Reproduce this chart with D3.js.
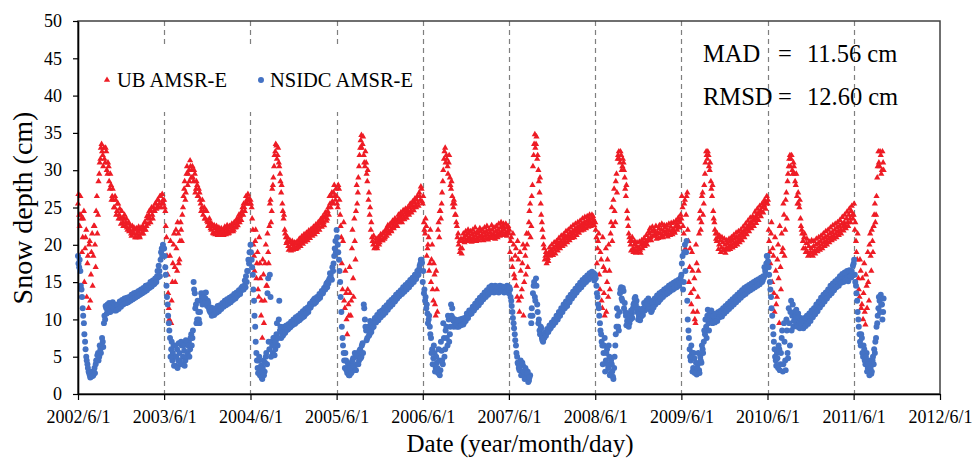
<!DOCTYPE html>
<html>
<head>
<meta charset="utf-8">
<script src="https://cdn.jsdelivr.net/npm/d3@7"></script>
<style>
  body { margin: 0; background: #fff; }
  svg { display: block; }
  text { font-family: "Liberation Serif", "Times New Roman", serif; fill: #000; }
</style>
</head>
<body>
<div id="chart"></div>
<script>
// each season starts on June 1; "a" arrays hold one value every 5 days,
// "b" arrays the readings 2 days later (the other side of the scatter band)
var seasons = [2002, 2003, 2004, 2005, 2006, 2007, 2008, 2009, 2010, 2011];
var stepDays = 5, offsetB = 2;

// UB AMSR-E snow depth (cm)
var ubDepth2002 = [25.5,24.0,26.5,23.5,21.0,24.5,19.5,22.0,17.5,11.5,
  20.5,16.0,21.5,18.5,22.5,17.0,26.5,24.0,29.5,31.5,
  33.5,32.0,33.0,31.0,32.5,29.5,30.5,27.5,28.0,26.5,
  26.0,25.0,26.0,24.5,25.5,24.0,23.5,24.5,23.0,23.5,
  22.5,23.5,22.0,23.0,22.0,21.5,22.5,21.5,22.0,21.0,
  21.5,21.8,21.2,22.0,21.5,22.5,22.0,23.0,22.5,23.5,
  24.0,23.5,24.5,24.0,25.0,24.5,25.5,25.0,26.0,25.5,
  26.5,25.5,26.0];
var ubDepth2002b = [26.8,22.5,24.0,19.0,23.5,15.0,21.0,13.0,18.5,20.0,
  12.5,19.0,14.5,22.5,20.0,24.5,21.5,28.5,31.0,33.0,
  32.5,30.5,31.5,33.0,30.0,31.0,28.5,29.5,26.0,27.5,
  25.0,26.5,24.0,25.5,23.5,24.8,22.8,23.5,22.5,24.0,
  23.0,22.3,22.8,21.8,22.5,21.2,21.8,22.3,21.0,22.2,
  21.0,22.4,21.0,22.3,22.2,21.5,23.0,22.0,23.8,22.8,
  24.5,23.0,25.0,23.5,24.5,25.5,24.8,26.0,25.0,26.5,
  25.0,26.8,25.5];
var ubDepth2003 = [26.0,24.5,21.0,16.0,11.5,18.5,9.5,15.0,20.0,17.0,
  22.0,16.5,21.5,18.0,23.0,20.5,25.0,27.5,26.0,29.5,
  28.0,30.0,31.3,29.0,30.5,28.5,29.5,27.5,28.0,26.5,
  27.0,25.5,25.0,24.0,25.0,23.5,24.5,23.0,22.5,23.0,
  22.0,22.5,21.5,22.2,21.8,22.0,21.5,22.0,21.7,21.3,
  22.0,21.5,22.2,21.8,22.0,21.6,22.3,22.0,22.5,22.0,
  22.8,22.4,23.0,23.5,23.0,24.0,24.5,24.0,25.0,25.5,
  26.0,26.8,26.2];
var ubDepth2003b = [25.0,22.5,18.5,13.5,10.0,20.5,12.5,17.5,21.5,15.0,
  19.5,23.0,17.5,20.5,22.0,24.0,26.5,28.5,27.0,30.5,
  29.5,28.5,30.5,30.0,29.0,30.0,27.0,28.5,26.5,27.5,
  26.0,24.5,26.0,24.5,23.5,24.5,23.2,22.5,23.5,22.2,
  22.8,21.6,22.6,21.4,22.5,21.3,22.3,21.5,22.2,21.8,
  21.3,22.4,21.4,22.6,21.5,22.5,21.8,22.8,21.8,23.0,
  22.3,23.4,22.6,24.0,23.8,23.3,25.0,25.5,24.5,26.5,
  25.5,26.0,25.5];
var ubDepth2004 = [26.0,25.0,22.0,18.5,20.5,15.5,19.0,13.0,17.5,10.5,
  7.5,16.0,12.5,20.0,14.5,19.0,22.5,26.0,24.5,28.0,
  30.5,32.5,33.3,32.0,31.0,29.5,27.0,25.5,23.5,22.0,
  21.0,20.5,19.8,20.3,19.5,20.0,19.3,19.8,20.2,19.5,
  20.0,20.5,20.2,20.8,20.5,21.0,20.7,21.2,21.0,21.5,
  21.3,21.8,21.5,22.0,21.8,22.3,22.0,22.6,22.4,23.0,
  22.8,23.3,23.0,23.6,24.0,23.5,25.0,26.5,25.0,27.0,
  25.5,28.0,26.0];
var ubDepth2004b = [25.5,23.5,20.0,16.5,22.0,17.5,14.0,21.0,15.5,12.5,
  18.0,9.5,17.5,14.5,21.5,17.5,25.5,23.0,27.5,29.0,
  32.0,33.5,31.5,33.0,30.5,28.5,28.0,24.5,24.0,21.5,
  20.2,21.0,19.3,20.6,19.2,20.5,19.6,20.3,19.4,20.4,
  19.6,20.8,19.8,21.1,20.1,21.4,20.4,21.6,20.6,21.9,
  20.9,22.1,21.2,22.4,21.4,22.7,21.7,23.0,22.0,23.4,
  22.4,23.8,22.6,24.3,23.2,24.5,24.0,25.5,26.5,25.8,
  27.0,26.5,27.5];
var ubDepth2005 = [26.5,25.0,27.5,24.0,21.0,14.0,23.0,11.5,13.5,8.0,
  12.0,17.0,10.5,19.5,15.5,23.5,18.0,28.0,27.0,30.5,
  33.0,34.7,33.5,32.0,30.5,31.0,28.5,26.0,24.0,22.0,
  21.0,20.0,19.5,20.3,19.8,20.5,20.0,20.8,21.2,20.6,
  21.5,21.0,21.8,22.2,21.6,22.5,22.0,22.8,22.4,23.0,
  22.6,23.2,23.5,23.0,23.8,23.4,24.0,23.7,24.3,24.0,
  24.6,24.3,25.0,24.6,25.3,25.0,25.7,25.3,26.0,25.6,
  27.0,26.0,27.5];
var ubDepth2005b = [25.5,28.0,26.0,22.5,17.5,20.5,12.5,16.5,10.0,14.0,
  10.5,13.5,12.5,22.0,13.0,20.5,24.5,25.5,29.0,32.0,
  34.0,33.0,34.5,31.0,32.5,29.5,30.0,27.0,25.0,23.0,
  20.5,21.2,19.6,20.8,19.5,21.0,20.3,21.4,20.6,21.6,
  20.8,22.0,21.2,22.6,21.5,22.8,21.8,23.2,22.2,23.5,
  23.0,22.5,24.0,23.3,24.3,23.0,24.6,23.4,24.8,23.6,
  25.0,24.0,25.5,24.3,25.8,24.6,26.2,25.0,26.5,25.2,
  26.5,27.8,25.8];
var ubDepth2006 = [25.5,23.0,21.5,22.5,19.5,21.0,17.5,15.0,20.0,12.5,
  16.0,10.5,14.0,22.0,21.0,24.5,25.5,28.5,31.5,33.0,
  32.0,30.5,31.0,29.0,27.5,26.5,25.0,25.5,24.0,22.5,
  21.5,20.5,19.5,18.8,20.5,21.0,20.5,21.3,20.8,21.5,
  21.0,20.7,21.4,21.0,21.6,21.2,20.8,21.5,21.1,21.8,
  21.3,20.9,21.6,21.2,21.8,21.4,21.0,21.7,21.3,22.0,
  21.5,21.2,21.8,21.4,22.0,21.6,22.3,21.8,22.5,22.0,
  21.5,22.3,21.8];
var ubDepth2006b = [26.5,22.0,23.5,18.5,20.0,16.5,22.0,18.0,14.0,17.5,
  12.0,16.5,11.0,23.0,24.5,23.5,27.0,30.0,32.5,31.0,
  31.5,29.5,32.0,28.0,28.5,25.5,26.0,24.0,23.0,21.0,
  20.0,19.0,20.8,19.5,21.5,20.3,21.8,20.5,22.0,20.6,
  21.8,20.4,22.0,20.6,22.3,20.5,21.8,20.6,22.2,20.8,
  22.0,20.6,22.3,20.8,22.5,20.7,22.1,20.9,22.6,21.0,
  22.3,20.8,22.5,21.0,22.8,21.2,23.0,21.4,22.8,21.3,
  22.8,21.2,22.5];
var ubDepth2007 = [21.5,19.0,21.0,17.0,20.0,15.5,19.5,13.0,18.0,11.0,
  16.5,14.0,20.0,15.0,18.5,21.5,17.0,23.0,25.5,22.5,
  28.0,32.0,34.8,33.5,31.5,30.0,27.0,25.5,23.0,21.0,
  19.5,18.5,17.5,18.2,19.0,18.5,19.3,19.0,19.6,19.3,
  19.9,19.6,20.2,19.9,20.5,20.2,20.8,20.5,21.1,20.8,
  21.3,21.0,21.6,21.3,21.8,21.5,22.1,21.8,22.3,22.0,
  22.6,22.3,22.8,22.5,23.0,22.7,23.2,22.9,23.4,23.0,
  23.5,22.8,23.3];
var ubDepth2007b = [22.0,20.5,18.0,21.5,16.0,18.5,14.5,20.5,12.5,19.0,
  13.0,17.5,10.5,19.5,16.0,20.0,21.5,24.5,21.0,26.5,
  30.5,33.5,33.0,34.5,32.0,28.5,29.0,24.0,22.0,20.0,
  18.0,19.0,18.7,17.8,19.6,18.8,20.0,18.6,20.3,18.8,
  20.5,19.2,20.9,19.5,21.2,19.8,21.4,20.0,21.8,20.3,
  22.0,20.6,22.3,20.9,22.6,21.0,22.8,21.3,23.0,21.6,
  23.2,21.9,23.5,22.0,23.7,22.2,23.8,22.4,24.0,22.5,
  24.0,23.8,22.6];
var ubDepth2008 = [23.0,21.0,19.5,21.5,14.0,18.0,11.5,17.0,10.5,19.5,
  15.0,13.0,16.5,21.5,25.0,22.5,27.5,23.0,29.5,31.5,
  32.5,31.0,32.0,30.5,31.0,29.0,26.5,24.5,22.5,21.0,
  20.0,20.5,19.5,20.0,19.2,19.8,19.0,19.6,19.3,20.0,
  19.5,20.2,19.8,20.5,20.0,20.8,21.5,21.0,21.8,21.2,
  22.0,21.4,20.8,21.6,22.2,21.5,22.0,21.3,21.8,22.3,
  21.6,22.0,21.4,21.9,22.4,21.7,22.1,21.8,22.4,22.8,
  22.5,23.3,23.0];
var ubDepth2008b = [22.0,17.5,20.5,16.0,19.0,12.5,21.0,13.5,16.5,11.0,
  18.0,20.0,14.0,23.0,20.5,26.0,24.5,28.5,27.0,32.0,
  31.5,32.5,30.0,31.5,30.0,27.5,28.0,23.5,21.5,20.5,
  19.2,21.0,19.0,20.5,18.9,20.3,19.5,20.4,18.9,20.6,
  19.9,20.9,20.3,21.3,20.6,21.8,22.2,20.6,22.4,21.8,
  21.2,22.5,21.6,20.9,22.6,21.0,22.8,21.0,22.6,21.4,
  22.6,21.1,22.8,21.3,22.9,21.4,23.0,21.6,23.2,22.0,
  23.6,22.3,24.0];
var ubDepth2009 = [23.5,25.0,21.5,26.0,24.0,27.0,20.5,17.0,13.5,19.0,
  11.0,15.5,9.5,17.5,13.0,21.5,24.5,23.0,27.0,25.5,
  29.5,32.5,31.5,32.0,30.0,28.5,26.5,24.5,23.0,21.5,
  20.5,21.0,20.0,20.6,19.6,20.3,19.4,20.0,19.5,20.2,
  19.7,20.4,19.9,20.6,20.1,20.8,20.3,21.0,20.5,21.2,
  20.8,21.5,21.2,21.8,21.6,22.2,22.0,22.6,22.3,23.0,
  22.8,23.3,23.2,23.8,23.5,24.2,24.0,24.6,24.4,25.0,
  25.3,25.8,25.5];
var ubDepth2009b = [26.5,22.5,25.5,19.5,26.5,22.0,15.0,19.5,12.0,16.5,
  14.0,10.0,20.0,11.0,16.5,23.5,22.0,26.5,24.0,28.0,
  31.0,32.0,32.5,30.5,31.0,27.5,28.0,23.5,22.0,20.8,
  21.5,19.4,21.2,19.0,21.0,19.2,20.8,18.9,20.6,19.3,
  20.8,19.4,21.0,19.6,21.3,19.8,21.6,20.0,21.8,20.3,
  22.0,20.6,22.4,21.0,22.8,21.4,23.2,21.8,23.6,22.2,
  23.8,22.5,24.4,22.9,24.8,23.3,25.2,23.8,25.5,24.3,
  26.0,24.8,26.5];
var ubDepth2010 = [25.5,22.0,19.0,21.5,15.0,18.5,11.0,16.5,13.0,20.0,
  9.5,17.0,21.5,19.5,24.0,22.0,27.0,28.5,30.5,32.0,
  31.5,30.0,31.0,29.5,28.0,26.5,27.0,25.0,23.5,22.0,
  20.5,21.0,19.5,20.2,19.0,19.8,18.6,19.5,18.9,19.8,
  19.2,20.0,19.4,20.2,19.7,20.5,20.0,20.8,20.3,21.0,
  20.5,21.2,20.8,21.5,21.0,21.7,21.2,22.0,21.5,22.3,
  21.8,22.5,22.0,22.8,22.4,23.0,22.6,23.5,23.0,24.0,
  23.5,24.5,24.0];
var ubDepth2010b = [26.0,20.5,17.5,23.0,19.5,13.5,21.0,12.0,18.0,15.5,
  22.5,14.0,19.0,25.5,18.5,26.0,23.5,29.5,31.5,30.5,
  32.0,29.5,30.5,28.5,29.5,25.5,25.5,26.0,22.5,21.5,
  19.5,21.5,19.0,20.8,18.5,20.4,19.0,20.6,18.5,20.5,
  18.8,20.8,19.1,21.0,19.3,21.2,19.5,21.5,19.8,21.8,
  20.0,22.0,20.3,22.3,20.6,22.6,20.8,22.8,21.0,23.0,
  21.3,23.3,21.5,23.7,21.9,24.0,22.2,24.4,22.5,24.8,
  23.0,25.2,23.5];
var ubDepth2011 = [24.0,22.0,20.5,18.0,15.5,13.0,16.5,12.0,10.0,17.5,
  9.3,14.5,19.0,12.5,21.5,16.5,20.5,22.5,25.5,24.0,
  29.0,32.5,30.5,32.0,30.0,31.0];
var ubDepth2011b = [25.5,23.0,19.0,21.5,14.0,18.0,11.5,15.5,13.5,11.0,
  16.0,11.5,15.0,20.0,18.5,22.0,19.0,24.0,23.0,26.5,
  30.5,31.0,32.5,29.5,32.5,30.0];

// NSIDC AMSR-E snow depth (cm)
var nsidcDepth2002 = [18.5,17.0,16.5,14.0,11.5,9.5,7.0,5.0,4.0,3.0,
  2.5,2.3,3.0,2.5,3.5,4.0,4.5,5.5,5.0,6.0,
  6.5,7.0,9.5,10.0,11.5,12.0,11.0,11.5,12.0,11.5,
  12.0,11.2,11.8,11.5,12.0,11.8,12.2,12.0,12.5,12.3,
  12.4,12.2,12.6,12.4,12.8,12.6,13.0,12.8,13.2,13.0,
  13.4,13.2,13.6,13.4,13.8,13.6,14.0,13.8,14.3,14.1,
  14.5,14.3,14.8,14.6,15.0,14.8,15.3,15.8,15.6,16.5,
  18.0,19.5,20.0];
var nsidcDepth2002b = [17.5,18.0,14.5,13.0,10.5,8.0,6.0,4.5,3.5,2.8,
  2.2,2.6,2.4,3.0,2.8,4.5,5.2,4.5,6.5,5.5,
  7.5,6.3,10.5,11.8,10.8,11.2,12.2,11.0,11.8,12.3,
  11.5,12.0,11.2,11.9,11.4,12.4,11.7,12.6,12.0,12.8,
  12.2,12.9,12.3,13.0,12.5,13.3,12.7,13.5,12.9,13.6,
  13.1,13.8,13.3,14.0,13.5,14.2,13.7,14.5,13.9,14.6,
  14.2,15.0,14.4,15.2,14.7,15.5,15.0,16.5,17.2,15.8,
  19.0,18.5,19.5];
var nsidcDepth2003 = [19.5,17.0,14.5,12.0,9.5,7.5,6.0,4.5,6.5,5.0,
  3.8,6.0,4.5,5.5,4.0,6.5,5.0,5.8,4.5,6.8,
  5.5,7.0,6.0,8.0,7.5,15.0,13.5,12.0,10.0,11.0,
  9.5,12.5,13.0,12.5,13.5,12.8,12.0,12.5,11.5,11.0,
  10.8,11.2,11.0,10.8,11.3,11.0,11.5,11.3,11.6,11.8,
  12.0,11.9,12.2,12.1,12.4,12.3,12.6,12.5,12.8,12.9,
  13.2,13.0,13.4,13.6,13.5,13.8,14.0,14.2,14.5,14.3,
  15.0,16.5,17.5];
var nsidcDepth2003b = [18.5,16.0,13.0,10.5,8.5,5.0,7.0,5.5,3.8,6.5,
  5.0,3.5,6.8,4.5,7.0,4.0,6.5,3.8,7.2,5.0,
  6.5,5.0,7.5,6.5,8.5,14.0,11.5,9.5,12.5,10.0,
  11.0,13.5,12.0,13.0,12.2,13.6,11.8,12.2,11.2,11.6,
  10.5,11.5,10.6,11.4,10.9,11.8,11.1,11.9,11.4,12.2,
  11.7,12.5,11.9,12.7,12.1,12.9,12.3,13.1,12.6,13.4,
  12.8,13.6,13.2,13.9,13.4,14.2,14.4,14.0,15.2,15.8,
  16.5,18.0,19.0];
var nsidcDepth2004 = [20.0,18.0,16.0,12.5,9.0,5.5,3.5,4.5,2.5,3.8,
  2.0,4.5,3.0,5.0,4.0,15.5,6.0,13.0,7.0,5.5,
  7.5,6.0,8.0,6.5,10.0,8.5,7.5,8.5,8.0,8.8,
  8.5,9.0,8.7,9.2,9.0,9.5,9.3,9.8,9.5,10.0,
  9.8,10.2,10.0,10.5,10.3,10.8,10.6,11.0,11.2,11.0,
  11.8,11.6,12.1,12.3,12.1,12.6,12.5,12.9,13.1,12.9,
  13.4,13.7,13.9,14.2,14.5,14.3,14.8,15.5,16.0,15.3,
  16.5,18.5,20.5];
var nsidcDepth2004b = [19.0,17.0,14.0,10.5,7.0,4.5,2.8,5.0,3.2,2.2,
  3.5,2.5,4.2,5.5,13.5,7.0,16.0,5.0,6.5,7.5,
  5.2,7.0,9.5,7.5,12.5,9.0,8.2,7.8,9.0,8.2,
  9.2,8.6,9.4,8.9,9.7,9.2,10.0,9.4,10.3,9.7,
  10.5,9.9,10.8,10.2,11.1,10.4,11.4,10.8,11.6,11.4,
  12.1,11.9,12.4,12.6,12.8,12.3,13.0,12.7,13.4,13.3,
  13.8,13.5,14.2,14.0,14.8,15.0,15.2,16.2,15.5,17.0,
  17.5,19.5,19.0];
var nsidcDepth2005 = [22.0,20.0,18.0,15.0,11.0,7.5,5.5,3.5,4.5,2.8,
  3.8,2.5,4.0,3.0,4.8,3.5,5.0,4.0,5.5,4.5,
  6.0,5.0,6.8,12.0,10.0,8.5,7.5,9.0,8.0,9.5,
  8.8,9.5,9.8,10.0,10.3,10.1,10.6,10.8,10.6,11.0,
  11.3,11.1,11.5,11.8,11.6,12.0,12.3,12.1,12.6,12.8,
  12.6,13.0,13.3,13.1,13.5,13.8,13.6,14.0,14.3,14.1,
  14.5,14.8,14.6,15.0,15.3,15.2,15.6,16.0,15.8,16.3,
  16.8,17.5,18.0];
var nsidcDepth2005b = [21.0,19.0,16.5,13.0,9.0,6.5,4.5,5.5,3.2,4.2,
  2.5,3.5,2.8,4.5,3.8,5.5,3.2,5.2,4.0,5.8,
  4.8,6.5,5.5,11.5,9.0,7.2,8.5,7.8,9.8,8.3,
  9.2,9.0,10.2,9.6,10.6,9.9,11.0,10.3,11.2,10.6,
  11.6,10.9,11.9,11.3,12.3,11.7,12.6,12.0,12.9,12.4,
  13.3,12.8,13.6,13.2,13.9,13.4,14.3,13.7,14.6,14.0,
  14.9,14.3,15.3,14.7,15.6,15.0,16.0,15.4,16.5,16.0,
  17.2,18.0,17.6];
var nsidcDepth2006 = [15.0,13.5,12.5,11.5,10.8,10.0,9.0,7.5,6.0,4.8,
  5.5,3.5,4.2,2.8,4.5,3.2,5.8,4.0,7.5,6.0,
  9.0,6.5,10.0,8.0,12.0,11.5,9.8,9.2,9.6,9.0,
  9.5,9.2,9.7,9.4,9.8,9.6,10.0,10.3,10.5,10.8,
  10.7,11.1,11.3,11.6,11.5,11.9,12.2,12.1,12.5,12.7,
  12.6,13.0,13.2,13.1,13.5,13.7,13.6,14.0,14.2,13.9,
  14.3,13.8,14.1,13.7,14.2,13.9,14.3,13.8,14.0,13.6,
  14.2,13.8,14.4];
var nsidcDepth2006b = [16.5,14.0,13.0,12.0,9.5,10.5,8.0,5.5,4.0,6.5,
  3.0,5.0,3.5,6.0,2.5,7.0,4.5,9.5,5.0,8.5,
  7.5,10.5,7.0,9.0,10.5,10.2,9.0,10.0,9.3,9.9,
  9.0,10.0,9.2,10.1,9.3,10.2,9.8,10.8,10.2,11.2,
  11.2,10.8,11.7,11.2,12.1,11.6,12.5,11.9,12.9,12.3,
  13.2,12.7,13.6,13.0,13.9,13.3,14.3,13.6,14.5,14.0,
  13.6,14.5,13.9,14.4,13.6,14.5,14.0,14.4,13.7,14.3,
  13.7,14.5,14.0];
var nsidcDepth2007 = [13.5,14.0,12.5,11.0,9.5,8.0,6.5,5.0,4.0,3.2,
  4.5,2.8,3.8,2.5,3.5,2.2,3.0,1.8,2.5,9.5,
  10.5,14.5,13.0,15.5,12.0,9.5,8.5,9.0,7.5,7.0,
  7.5,7.9,8.2,8.5,8.6,9.0,9.1,9.4,9.5,9.9,
  10.0,10.3,10.4,10.8,10.9,11.2,11.4,11.6,11.9,12.0,
  12.3,12.4,12.7,12.9,13.1,13.3,13.5,13.8,13.9,14.2,
  14.3,14.6,14.7,15.0,15.1,15.3,15.5,15.6,15.8,15.9,
  16.1,16.0,16.2];
var nsidcDepth2007b = [14.3,13.0,11.8,10.2,8.8,7.2,5.5,4.2,3.5,4.0,
  2.5,4.2,3.0,2.0,3.2,2.8,1.6,2.2,10.5,11.5,
  13.5,15.0,12.5,14.5,11.0,10.0,8.0,8.8,7.2,7.5,
  8.2,7.8,8.7,8.3,9.2,8.8,9.6,9.2,10.0,9.6,
  10.5,10.0,11.0,10.5,11.5,11.0,12.0,11.5,12.4,11.8,
  12.9,12.3,13.3,12.8,13.7,13.2,14.1,13.6,14.5,14.0,
  14.9,14.3,15.3,14.7,15.6,15.0,15.9,15.3,16.2,15.6,
  16.4,15.8,15.2];
var nsidcDepth2008 = [16.0,14.5,13.0,11.5,9.5,8.0,6.5,5.5,7.5,4.5,
  6.0,3.5,5.0,2.8,4.0,2.3,3.5,6.5,9.0,10.5,
  8.5,13.5,14.3,12.5,13.8,12.2,10.5,9.8,10.3,9.5,
  10.0,10.8,11.5,12.2,13.0,12.5,11.5,10.5,9.9,10.4,
  11.0,11.5,11.2,11.8,12.4,12.8,12.2,11.6,11.2,11.8,
  12.3,12.0,12.6,12.9,12.5,13.0,13.3,13.1,13.5,13.7,
  13.4,13.8,14.0,13.7,14.1,14.3,14.0,14.4,14.6,14.3,
  14.8,14.5,15.0];
var nsidcDepth2008b = [15.5,13.5,12.0,10.5,8.5,7.0,4.0,6.5,3.0,5.5,
  4.0,6.5,2.5,4.5,3.0,2.0,5.0,8.0,11.5,9.0,
  11.0,14.0,12.8,14.2,11.5,11.0,9.2,10.8,9.0,10.6,
  11.2,10.2,12.0,12.8,12.0,11.0,10.0,11.0,10.8,11.4,
  10.6,12.2,11.9,12.5,12.0,11.4,12.5,11.0,12.3,11.6,
  12.8,12.4,13.2,12.3,13.5,12.7,13.7,13.0,14.0,13.3,
  14.2,13.5,14.5,13.8,14.7,14.0,14.9,14.2,15.1,14.6,
  15.3,14.9,15.6];
var nsidcDepth2009 = [16.0,18.5,15.0,20.0,19.0,12.5,8.5,6.0,4.5,5.5,
  3.5,4.8,3.0,2.6,4.0,3.2,5.0,4.2,6.0,7.0,
  8.0,9.0,10.5,9.5,11.0,10.0,10.8,9.8,10.2,9.9,
  10.4,10.2,10.7,10.5,11.0,10.8,11.3,11.1,11.6,11.5,
  11.9,11.8,12.2,12.1,12.5,12.4,12.8,12.7,13.1,13.0,
  13.4,13.2,13.6,13.5,13.9,13.7,14.1,14.0,14.3,14.2,
  14.5,14.4,14.7,14.6,14.9,14.8,15.1,15.0,15.3,15.2,
  15.6,16.5,17.5];
var nsidcDepth2009b = [17.5,14.0,19.0,16.5,20.5,10.0,7.5,5.0,6.5,3.0,
  5.5,2.8,4.2,3.5,5.5,2.8,4.5,6.5,5.5,8.5,
  10.0,7.5,11.3,8.5,10.5,11.2,9.5,10.5,9.6,10.8,
  9.8,11.0,10.3,11.2,10.4,11.5,10.8,11.8,11.1,12.1,
  11.4,12.4,11.7,12.7,12.0,13.0,12.3,13.3,12.6,13.6,
  12.9,13.9,13.2,14.2,13.4,14.4,13.7,14.6,13.9,14.8,
  14.1,15.0,14.3,15.2,14.5,15.4,14.7,15.6,15.0,15.8,
  17.0,16.0,18.5];
var nsidcDepth2010 = [18.5,17.0,15.0,13.0,10.5,8.0,6.0,4.5,5.5,3.5,
  6.0,4.0,7.5,3.0,9.5,4.5,10.0,5.5,11.5,6.5,
  12.5,10.5,9.0,11.0,10.5,9.5,10.8,9.8,10.2,9.0,
  9.6,9.3,9.8,9.6,10.1,10.4,10.3,10.7,11.0,10.9,
  11.3,11.6,11.5,11.9,12.2,12.1,12.5,12.8,12.7,13.1,
  13.3,13.2,13.6,13.9,13.8,14.2,14.4,14.3,14.7,14.9,
  14.8,15.2,15.4,15.3,15.6,15.8,15.5,16.0,15.4,15.9,
  16.3,15.6,16.0];
var nsidcDepth2010b = [17.8,16.0,14.0,11.5,9.0,7.0,5.0,3.8,4.8,6.5,
  3.2,5.5,8.5,4.0,7.0,3.2,8.5,4.8,9.5,11.0,
  8.5,12.0,9.8,10.0,11.3,9.0,10.3,8.8,9.5,9.9,
  8.8,10.2,9.1,10.5,9.4,10.8,9.8,11.2,10.3,11.5,
  10.7,12.0,11.1,12.4,11.6,12.9,12.0,13.3,12.4,13.6,
  12.8,14.0,13.2,14.5,13.5,14.8,13.9,15.1,14.3,15.4,
  14.5,15.8,14.9,16.1,15.0,16.3,15.2,16.5,15.1,16.6,
  15.8,16.5,17.2];
var nsidcDepth2011 = [17.5,16.0,14.5,12.5,10.0,8.0,6.5,7.5,5.0,6.0,
  4.0,5.5,3.5,4.5,3.0,2.7,4.5,4.0,5.5,7.5,
  9.5,11.5,12.5,13.3,12.0,11.0];
var nsidcDepth2011b = [18.0,15.0,13.5,11.0,9.0,7.0,8.0,5.5,6.5,4.5,
  5.0,3.0,4.0,2.5,3.5,3.0,5.0,6.0,7.0,9.0,
  10.5,13.0,11.0,12.0,10.0,12.8];

var ubSeries = [ubDepth2002, ubDepth2003, ubDepth2004, ubDepth2005, ubDepth2006,
  ubDepth2007, ubDepth2008, ubDepth2009, ubDepth2010, ubDepth2011];
var ubSeriesB = [ubDepth2002b, ubDepth2003b, ubDepth2004b, ubDepth2005b, ubDepth2006b,
  ubDepth2007b, ubDepth2008b, ubDepth2009b, ubDepth2010b, ubDepth2011b];
var nsidcSeries = [nsidcDepth2002, nsidcDepth2003, nsidcDepth2004, nsidcDepth2005, nsidcDepth2006,
  nsidcDepth2007, nsidcDepth2008, nsidcDepth2009, nsidcDepth2010, nsidcDepth2011];
var nsidcSeriesB = [nsidcDepth2002b, nsidcDepth2003b, nsidcDepth2004b, nsidcDepth2005b, nsidcDepth2006b,
  nsidcDepth2007b, nsidcDepth2008b, nsidcDepth2009b, nsidcDepth2010b, nsidcDepth2011b];

var yTicks = [0, 5, 10, 15, 20, 25, 30, 35, 40, 45, 50];
var xTickYears = [2002, 2003, 2004, 2005, 2006, 2007, 2008, 2009, 2010, 2011, 2012];

var red = "#ee1c25", blue = "#4472c4";
var serif = "'Liberation Serif', 'Times New Roman', serif";

function toPoints(list, offset) {
  var pts = [];
  list.forEach(function(vals, k) {
    var start = new Date(seasons[k], 5, 1);
    vals.forEach(function(v, i) {
      pts.push({ date: d3.timeDay.offset(start, i * stepDays + offset), value: v });
    });
  });
  return pts;
}
var ubPoints = toPoints(ubSeries, 0).concat(toPoints(ubSeriesB, offsetB));
var nsidcPoints = toPoints(nsidcSeries, 0).concat(toPoints(nsidcSeriesB, offsetB));

var W = 973, H = 458;
var margin = { top: 21, right: 33, bottom: 64, left: 78 };

var svg = d3.select("#chart").append("svg")
  .attr("width", W)
  .attr("height", H);

var xTickDates = xTickYears.map(function(yr) { return new Date(yr, 5, 1); });

var x = d3.scaleTime()
  .domain([xTickDates[0], xTickDates[xTickDates.length - 1]])
  .range([margin.left, W - margin.right]);
var y = d3.scaleLinear()
  .domain([0, 50])
  .range([H - margin.bottom, margin.top]);

// dashed year lines
svg.append("g")
  .selectAll("line")
  .data(xTickDates.slice(1, -1))
  .join("line")
  .attr("x1", function(d) { return Math.round(x(d)) + 0.5; })
  .attr("x2", function(d) { return Math.round(x(d)) + 0.5; })
  .attr("y1", y(50))
  .attr("y2", y(0))
  .attr("stroke", "#7f7f7f")
  .attr("stroke-width", 1.2)
  .attr("stroke-dasharray", "5,4");

// plot frame
svg.append("rect")
  .attr("x", x.range()[0])
  .attr("y", y(50))
  .attr("width", x.range()[1] - x.range()[0])
  .attr("height", y(0) - y(50))
  .attr("fill", "none")
  .attr("stroke", "#404040")
  .attr("stroke-width", 1.5);

// legend box hides the grid lines behind it
svg.append("rect")
  .attr("x", 92).attr("y", 45)
  .attr("width", 328).attr("height", 67)
  .attr("fill", "#fff");

var tri = d3.symbol(d3.symbolTriangle, 17);
var dot = d3.symbol(d3.symbolCircle, 28);

svg.append("g")
  .selectAll("path")
  .data(ubPoints)
  .join("path")
  .attr("d", tri)
  .attr("transform", function(d) { return "translate(" + x(d.date) + "," + y(d.value) + ")"; })
  .attr("fill", red);

svg.append("g")
  .selectAll("path")
  .data(nsidcPoints)
  .join("path")
  .attr("d", dot)
  .attr("transform", function(d) { return "translate(" + x(d.date) + "," + y(d.value) + ")"; })
  .attr("fill", blue);

// axes
var xAxis = svg.append("g")
  .attr("transform", "translate(0," + y(0) + ")")
  .call(d3.axisBottom(x)
    .tickValues(xTickDates)
    .tickFormat(d3.timeFormat("%Y/%-m/%-d"))
    .tickSizeInner(6)
    .tickSizeOuter(0)
    .tickPadding(10));
var yAxis = svg.append("g")
  .attr("transform", "translate(" + x.range()[0] + ",0)")
  .call(d3.axisLeft(y)
    .tickValues(yTicks)
    .tickSizeInner(5)
    .tickSizeOuter(0)
    .tickPadding(11));

[xAxis, yAxis].forEach(function(ax) {
  ax.attr("font-family", serif).attr("font-size", 18);
  ax.select(".domain").attr("stroke", "#000").attr("stroke-width", 1.6);
  ax.selectAll(".tick line").attr("stroke", "#000").attr("stroke-width", 1.2);
  ax.selectAll(".tick text")
    .style("font-family", serif)
    .style("font-size", "18px")
    .attr("fill", "#000");
});

// axis titles
svg.append("text")
  .attr("x", 520)
  .attr("y", 452)
  .attr("text-anchor", "middle")
  .style("font-size", "25px")
  .text("Date (year/month/day)");

svg.append("text")
  .attr("transform", "translate(32,208) rotate(-90)")
  .attr("text-anchor", "middle")
  .style("font-size", "28px")
  .text("Snow depth (cm)");

// legend
svg.append("path")
  .attr("d", tri)
  .attr("transform", "translate(107,80)")
  .attr("fill", red);
svg.append("text")
  .attr("x", 117).attr("y", 87)
  .style("font-size", "20.5px")
  .text("UB AMSR-E");
svg.append("path")
  .attr("d", dot)
  .attr("transform", "translate(261,80)")
  .attr("fill", blue);
svg.append("text")
  .attr("x", 270).attr("y", 87)
  .style("font-size", "20.5px")
  .text("NSIDC AMSR-E");

// statistics
var stats = [["MAD", "11.56 cm", 62], ["RMSD", "12.60 cm", 105]];
stats.forEach(function(s) {
  svg.append("text").attr("x", 703).attr("y", s[2]).style("font-size", "24.5px").text(s[0]);
  svg.append("text").attr("x", 778).attr("y", s[2]).style("font-size", "24.5px").text("=");
  svg.append("text").attr("x", 807).attr("y", s[2]).style("font-size", "24.5px").text(s[1]);
});
</script>
</body>
</html>
